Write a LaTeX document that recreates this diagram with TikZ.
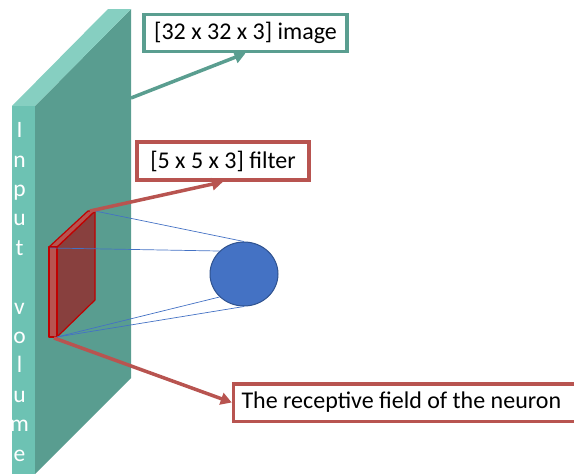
\documentclass[tikz,border=0pt]{standalone}
\usepackage{fontspec}
\setmainfont{Carlito}
\usetikzlibrary{arrows.meta}
\usetikzlibrary{shapes.geometric}

\definecolor{slabfront}{HTML}{6DC2B3}
\definecolor{slabtop}{HTML}{86CFC1}
\definecolor{slabside}{HTML}{599D90}
\definecolor{imgteal}{HTML}{5A9E90}
\definecolor{filterred}{HTML}{B85450}
\definecolor{filterdark}{HTML}{88403E}
\definecolor{filterline}{HTML}{C00000}
\definecolor{neuronblue}{HTML}{4472C4}
\definecolor{neuronline}{HTML}{2F528F}

\tikzset{
  lbl/.style={draw, line width=3.5pt, fill=white, text=black, inner sep=0pt,
    font=\fontsize{24}{28}\selectfont},
  callout/.style={line width=3.5pt, -{Triangle[length=11pt,width=12pt]}},
  ray/.style={draw=neuronblue, line width=0.7pt},
  facet/.style={draw=filterline, line width=1.2pt, line join=round}
}

\begin{document}
\begin{tikzpicture}[x=1pt,y=-1pt]
    \useasboundingbox (0,0) rectangle (574,474);

    % input volume
    \fill[slabside] (35,106) -- (131,9) -- (131,378) -- (35,474) -- cycle;
    \fill[slabtop] (12,106) -- (108,9) -- (131,9) -- (35,106) -- cycle;
    \fill[slabfront] (12,106) rectangle (35,480);
    \draw (19.5,292) node [white, align=center, font=\fontsize{23.5}{29.4}\selectfont] (vol)
        {I\\n\\p\\u\\t\\\mbox{}\\v\\o\\l\\u\\m\\e};

    % filter
    \filldraw[facet, fill=filterdark] (57,247) -- (95,211) -- (95,300) -- (57,337) -- cycle;
    \filldraw[facet, fill=filterred] (49,247) -- (88,211) -- (95,211) -- (57,247) -- cycle;
    \filldraw[facet, fill=filterred] (49,247) rectangle (57,337);

    \coordinate (slabedge) at (131,98);
    \coordinate (ftop) at (95,211);
    \coordinate (fmid) at (90,211);
    \coordinate (fleft) at (50,248);
    \coordinate (fbot) at (57,337);
    \coordinate (fbase) at (54,338);

    % neuron
    \draw (244,274) node [ellipse, draw=neuronline, fill=neuronblue, line width=1pt,
        minimum width=68pt, minimum height=64pt, inner sep=0pt] (neuron) {};

    \draw[ray] (ftop) -- (neuron.north);
    \draw[ray] (fleft) -- (neuron.north west);
    \draw[ray] (fbot) -- (neuron.south west);
    \draw[ray] (fbot) -- (neuron.south);

    % labels
    \draw (245.5,33) node [lbl, draw=imgteal, minimum width=203pt, minimum height=37pt] (img)
        {[32 x 32 x 3] image};
    \draw (223,161) node [lbl, draw=filterred, minimum width=172pt, minimum height=38pt] (flt)
        {[5 x 5 x 3] filter};
    \draw (231.75,402.5) node [lbl, draw=filterred, anchor=west, inner xsep=8pt,
        minimum height=37.5pt] (rf) {\makebox[334pt][l]{The receptive field of the neuron}};

    \draw[callout, imgteal] (slabedge) -- (img.south);
    \draw[callout, filterred] (fmid) -- (flt.south);
    \draw[callout, filterred] (fbase) -- (rf.west);
\end{tikzpicture}
\end{document}
